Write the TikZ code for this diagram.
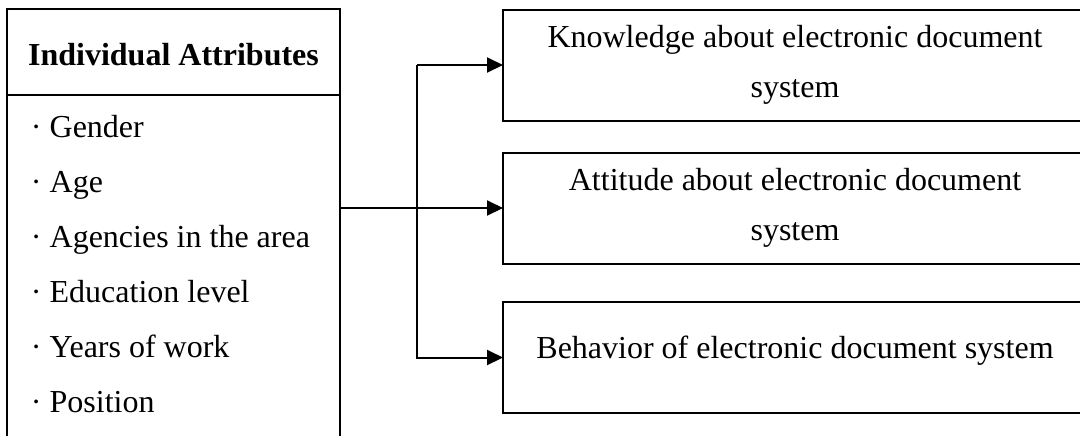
\documentclass[tikz,border=0pt]{standalone}
\usepackage{fontspec}
\setmainfont{Liberation Serif}
\usetikzlibrary{positioning,arrows.meta}

\begin{document}
\begin{tikzpicture}[
  x=0.5pt,y=-0.5pt,
  font=\fontsize{16pt}{25pt}\selectfont,
  line width=1pt,
  frame/.style={rectangle,draw,inner sep=0pt,outer sep=0pt},
  outcome/.style={frame,minimum width=292pt,minimum height=55.5pt,align=center},
  arr/.style={-{Triangle[length=8pt,width=7.5pt]}}
]
\useasboundingbox (0,0) rectangle (1080,435);
\clip (0,0) rectangle (1080,435);

% left column
\node[frame,minimum width=166.5pt,minimum height=43pt,text height=14pt,font=\fontsize{16pt}{25pt}\selectfont\bfseries] (head) at (173.5,52) {Individual Attributes};
\node[frame,minimum width=166.5pt,minimum height=192.5pt,below=0pt of head] (list) {};
\node[anchor=north west,inner sep=0pt,align=left,font=\fontsize{16pt}{27.5pt}\selectfont] (items) at (30,114)
  {· Gender\\ · Age\\ · Agencies in the area\\ · Education level\\ · Years of work\\ · Position};

% right column
\node[outcome] (know) at (795,65) {Knowledge about electronic document\\ system};
\node[outcome] (att) at (795,208) {Attitude about electronic document\\ system};
\node[outcome,text depth=10pt] (beh) at (795,357.5) {Behavior of electronic document system};

% connectors
\coordinate (split) at (417,208);
\draw[arr] (list.east |- att.west) -- (att.west);
\draw[arr] (split |- know.west) -- (know.west);
\draw[arr] (split |- know.west) -- (split |- beh.west) -- (beh.west);

\end{tikzpicture}
\end{document}
